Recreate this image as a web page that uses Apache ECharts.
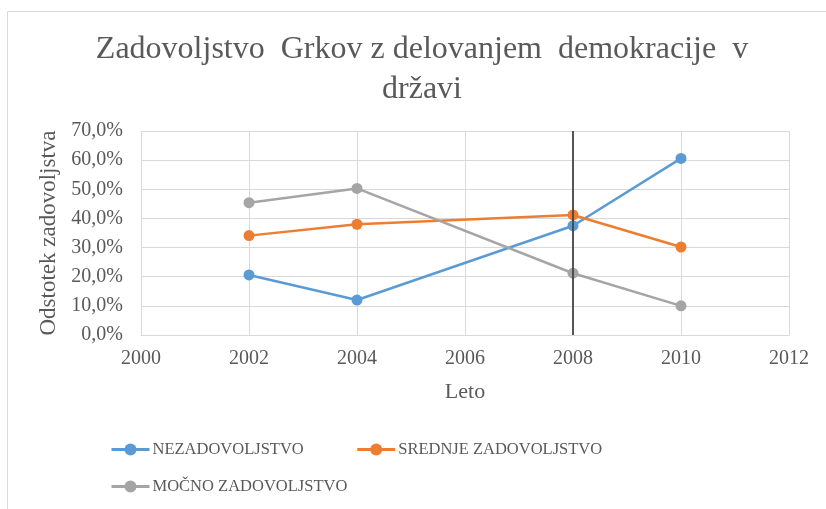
<!DOCTYPE html>
<html>
<head>
<meta charset="utf-8">
<script src="https://cdn.jsdelivr.net/npm/echarts@6/dist/echarts.min.js"></script>
<style>
html,body{margin:0;padding:0;background:#fff;}
#c{width:826px;height:509px;}
</style>
</head>
<body>
<div id="c"></div>
<script>
const years = [2002, 2004, 2008, 2010];
const nezadovoljstvo = [20.6, 12.0, 37.5, 60.6];
const srednje = [34.1, 38.0, 41.2, 30.2];
const mocno = [45.4, 50.3, 21.2, 10.0];
const seriesNames = ['NEZADOVOLJSTVO', 'SREDNJE ZADOVOLJSTVO', 'MOČNO ZADOVOLJSTVO'];
const markerYear = 2008;

const font = 'Liberation Serif';
const txt = '#595959';
const pairs = arr => years.map((y, i) => [y, arr[i]]);

const chart = echarts.init(document.getElementById('c'));
const mk = (name, data, color, extra) => Object.assign({
  name, type: 'line', data: pairs(data), symbol: 'circle', symbolSize: 11,
  lineStyle: { color, width: 2.5 }, itemStyle: { color }
}, extra || {});

const legendCommon = {
  padding: 0, itemWidth: 38, itemHeight: 15,
  lineStyle: { width: 3 },
  textStyle: { fontFamily: font, fontSize: 16.5, color: txt, padding: [0, 0, 0, -2] }
};

chart.setOption({
  animation: false,
  title: {
    text: 'Zadovoljstvo  Grkov z delovanjem  demokracije  v\ndržavi',
    left: 422, textAlign: 'center', top: 30, padding: 0,
    textStyle: { fontFamily: font, fontSize: 32, fontWeight: 'normal', color: txt, lineHeight: 40 }
  },
  graphic: [{
    type: 'rect', shape: { x: 7.5, y: 11.5, width: 840, height: 520 },
    style: { fill: 'none', stroke: '#d9d9d9', lineWidth: 1 }, silent: true
  }],
  grid: { left: 141, right: 37, top: 131, bottom: 174 },
  xAxis: {
    type: 'value', min: 2000, max: 2012, interval: 2,
    name: 'Leto', nameLocation: 'middle', nameGap: 46,
    nameTextStyle: { fontFamily: font, fontSize: 22, color: txt },
    axisLine: { show: true, lineStyle: { color: '#d9d9d9' } },
    axisTick: { show: false },
    axisLabel: { fontFamily: font, fontSize: 20, color: txt, margin: 14, formatter: v => String(v) },
    splitLine: { show: true, lineStyle: { color: '#d9d9d9' } }
  },
  yAxis: {
    type: 'value', min: 0, max: 70, interval: 10,
    name: 'Odstotek zadovoljstva', nameLocation: 'middle', nameGap: 80,
    nameTextStyle: { fontFamily: font, fontSize: 23, color: txt },
    axisLine: { show: false }, axisTick: { show: false },
    axisLabel: { fontFamily: font, fontSize: 20, color: txt, margin: 18,
      formatter: v => v.toFixed(1).replace('.', ',') + '%' },
    splitLine: { show: true, lineStyle: { color: '#d9d9d9' } }
  },
  legend: [Object.assign({
    data: [seriesNames[0], seriesNames[1]],
    left: 110, top: 441, itemGap: 52
  }, legendCommon), Object.assign({
    data: [seriesNames[2]],
    left: 110, top: 478
  }, legendCommon)],
  series: [
    mk(seriesNames[0], nezadovoljstvo, '#5B9BD5'),
    mk(seriesNames[1], srednje, '#ED7D31'),
    mk(seriesNames[2], mocno, '#A5A5A5', {
      markLine: {
        silent: true, symbol: 'none', label: { show: false },
        lineStyle: { color: '#454545', width: 1.8, type: 'solid' },
        data: [{ xAxis: markerYear }]
      }
    })
  ]
});
</script>
</body>
</html>
